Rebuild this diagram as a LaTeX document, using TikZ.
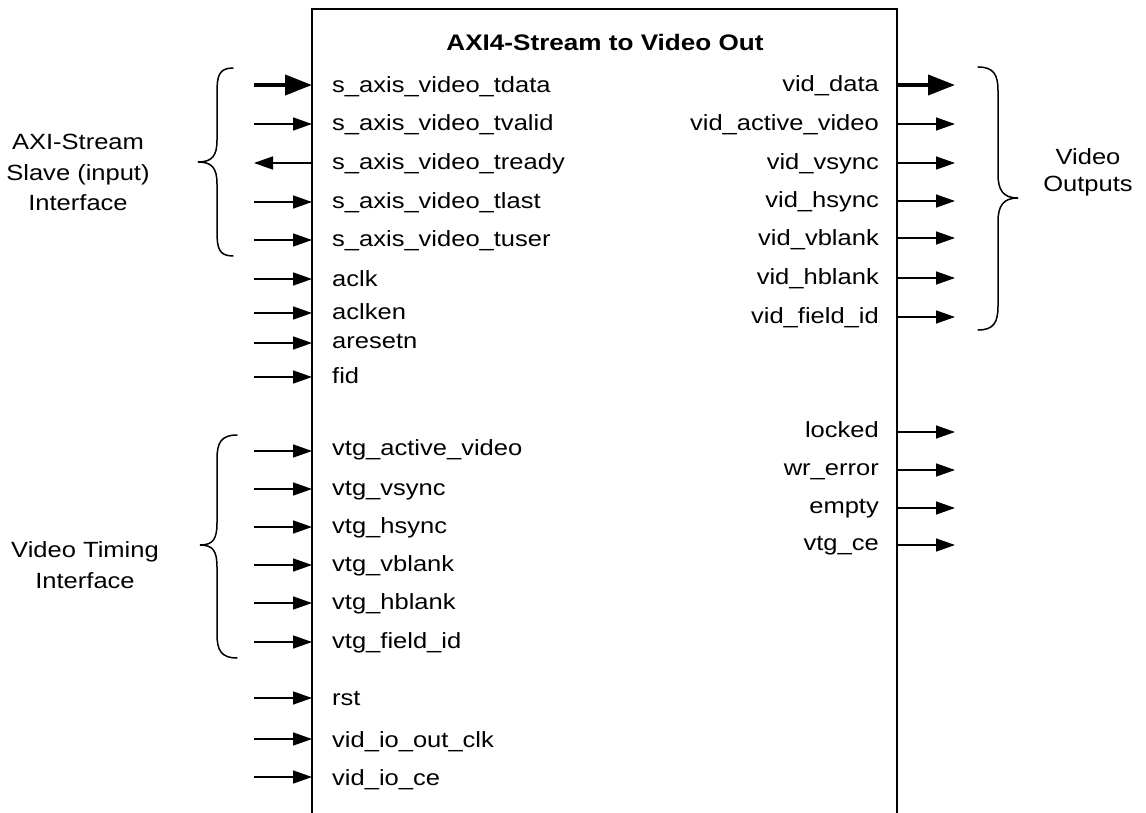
\documentclass[tikz,border=0pt]{standalone}
\usepackage{fontspec}
\setmainfont{Liberation Sans}[FakeStretch=1.16]
\usetikzlibrary{arrows.meta}

\begin{document}
\begin{tikzpicture}[x=1pt,y=-1pt,
  sig/.style={line width=1.5pt,-{Triangle[length=19pt,width=13pt]}},
  rsig/.style={line width=1.5pt,{Triangle[length=19pt,width=13pt]}-},
  bus/.style={line width=4pt,-{Triangle[length=27pt,width=20pt]}},
  lbl/.style={inner sep=0pt,font=\fontsize{22}{26}\selectfont},
  grouplbl/.style={lbl,anchor=base},
  brace/.style={line width=1.5pt,line cap=round},
  blockline/.style={line width=1.6pt},
]
\useasboundingbox (0,0) rectangle (1146,813);

% block outline (runs off the bottom of the page)
\draw[blockline] (312,813) -- (312,9) -- (897,9) -- (897,813);
\node[lbl,font=\fontsize{22.5}{26}\selectfont\bfseries,anchor=base] (title) at (605,51) {AXI4-Stream to Video Out};

% inputs on the left side: arrow y / text baseline / name / label / style
\foreach \ay/\ty/\n/\t/\s in {
  85/93/tdata/s\_axis\_video\_tdata/bus,
  124/131/tvalid/s\_axis\_video\_tvalid/sig,
  163/170/tready/s\_axis\_video\_tready/rsig,
  202/209/tlast/s\_axis\_video\_tlast/sig,
  240/247/tuser/s\_axis\_video\_tuser/sig,
  279/287/aclk/aclk/sig,
  313/319/aclken/aclken/sig,
  343/348/aresetn/aresetn/sig,
  377/383/fid/fid/sig,
  451/455/vtgact/vtg\_active\_video/sig,
  489/495/vtgvs/vtg\_vsync/sig,
  527/533/vtghs/vtg\_hsync/sig,
  565/571/vtgvb/vtg\_vblank/sig,
  603/609/vtghb/vtg\_hblank/sig,
  642/648/vtgfid/vtg\_field\_id/sig,
  698/705/rst/rst/sig,
  739/747/outclk/vid\_io\_out\_clk/sig,
  777/785/ioce/vid\_io\_ce/sig}{
  \coordinate (in-\n-src) at (254,\ay);
  \coordinate (in-\n) at (312,\ay);
  \draw[\s] (in-\n-src) -- (in-\n);
  \node[lbl,anchor=base west] (lbl-\n) at (332,\ty) {\t};
}

% outputs on the right side
\foreach \ay/\ty/\n/\t/\s in {
  85/92/vdata/vid\_data/bus,
  124/131/vact/vid\_active\_video/sig,
  163/170/vvs/vid\_vsync/sig,
  201/208/vhs/vid\_hsync/sig,
  238/245/vvb/vid\_vblank/sig,
  278/284/vhb/vid\_hblank/sig,
  317/323/vfid/vid\_field\_id/sig,
  432/437/locked/locked/sig,
  470/475/wrerr/wr\_error/sig,
  508/513/empty/empty/sig,
  545/550/vtgce/vtg\_ce/sig}{
  \coordinate (out-\n) at (897,\ay);
  \coordinate (out-\n-dst) at (955,\ay);
  \draw[\s] (out-\n) -- (out-\n-dst);
  \node[lbl,anchor=base east] (lbl-\n) at (879,\ty) {\t};
}

% interface braces
\draw[brace] (233,68) .. controls (219,68) and (217,76) .. (217,92) -- (217,140)
  .. controls (217,156) and (212,162) .. (198,162)
  .. controls (212,162) and (217,168) .. (217,184) -- (217,232)
  .. controls (217,248) and (219,256) .. (233,256);
\draw[brace] (237,435) .. controls (221,435) and (217,443) .. (217,459) -- (217,523)
  .. controls (217,539) and (213,545) .. (200,545)
  .. controls (213,545) and (217,551) .. (217,567) -- (217,634)
  .. controls (217,650) and (221,658) .. (237,658);
\draw[brace] (978,67) .. controls (994,67) and (998,75) .. (998,91) -- (998,174)
  .. controls (998,190) and (1003,198) .. (1018,198)
  .. controls (1003,198) and (998,206) .. (998,222) -- (998,306)
  .. controls (998,322) and (994,330) .. (978,330);

% group labels
\node[grouplbl] (axi1) at (78,150) {AXI-Stream};
\node[grouplbl] (axi2) at (78,181) {Slave (input)};
\node[grouplbl] (axi3) at (78,211) {Interface};
\node[grouplbl] (vti1) at (85,557) {Video Timing};
\node[grouplbl] (vti2) at (85,588) {Interface};
\node[grouplbl] (vo1) at (1088,165) {Video};
\node[grouplbl] (vo2) at (1088,192) {Outputs};
\end{tikzpicture}
\end{document}
